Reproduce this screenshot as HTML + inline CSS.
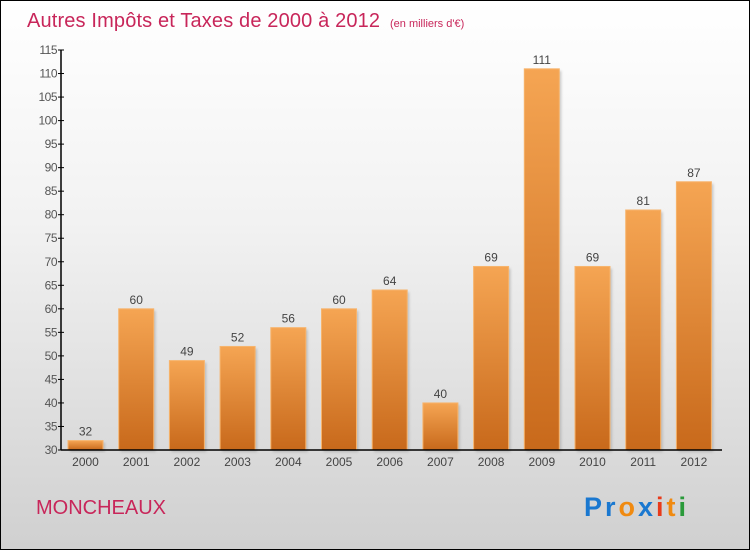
<!DOCTYPE html>
<html><head><meta charset="utf-8"><style>
html,body{margin:0;padding:0}
body{width:750px;height:550px;overflow:hidden;font-family:"Liberation Sans",sans-serif}
#wrap{position:absolute;left:0;top:0;width:748px;height:548px;border:1px solid #000;background:linear-gradient(#ffffff 0%,#f2f2f2 40%,#d0d0d0 100%)}
</style></head><body>
<div id="wrap">
<svg id="chart" width="750" height="550" style="position:absolute;left:-1px;top:-1px">
<defs>
<linearGradient id="bg" x1="0" y1="0" x2="0" y2="1"><stop offset="0" stop-color="#f5a553"/><stop offset="1" stop-color="#c8691b"/></linearGradient>
<filter id="sh"><feGaussianBlur stdDeviation="1.2"/></filter>
</defs>
<text x="27" y="27" font-size="20" fill="#c8265a" textLength="353">Autres Impôts et Taxes de 2000 à 2012</text>
<text x="390" y="27" font-size="11" fill="#c8265a">(en milliers d'€)</text>
<g id="grid"></g><g id="bars"></g><g id="axes"></g>
<text x="36" y="514" font-size="20" fill="#c8265a">MONCHEAUX</text>
<g font-size="27" font-weight="bold" font-family="Liberation Sans,sans-serif">
<text x="584" y="516" textLength="102"><tspan fill="#1a78d0">Pr</tspan><tspan fill="#f08a10">o</tspan><tspan fill="#1a78d0">x</tspan><tspan fill="#e83a1a">i</tspan><tspan fill="#f08a10">t</tspan><tspan fill="#2a9a3a">i</tspan></text>
</g>
</svg>
</div>
<script>
const categories=["2000","2001","2002","2003","2004","2005","2006","2007","2008","2009","2010","2011","2012"];
const values=[32,60,49,52,56,60,64,40,69,111,69,81,87];
const ticks=[30,35,40,45,50,55,60,65,70,75,80,85,90,95,100,105,110,115];
const NS="http://www.w3.org/2000/svg";
const yMin=30,yMax=115,y0=450,y1=50,axisX=61;
function y(v){return y0-(v-yMin)*(y0-y1)/(yMax-yMin);}
function xc(i){return 85.5+i*50.7;}
function mk(t,a,p){const e=document.createElementNS(NS,t);for(const k in a)e.setAttribute(k,a[k]);p.appendChild(e);return e;}
const bars=document.getElementById('bars'),axes=document.getElementById('axes');
values.forEach((v,i)=>{
 const s=mk('rect',{x:xc(i)-17.5+2,y:y(v)+2,width:35,height:y0-y(v),fill:'#999',opacity:0.5,filter:'url(#sh)'},bars);
 
 
 const r=mk('rect',{x:xc(i)-17.5,y:y(v),width:35,height:y0-y(v),fill:'url(#bg)',stroke:'#f7b46c','stroke-width':1},bars);
 
 
 const t=mk('text',{x:xc(i),y:y(v)-5,'text-anchor':'middle','font-size':12,fill:'#444'},bars);
 t.textContent=v;
 
 
 const c=mk('text',{x:xc(i),y:466,'text-anchor':'middle','font-size':12,fill:'#444'},axes);
 c.textContent=categories[i];
 
 
});
const ya=mk('line',{x1:axisX,y1:y1,x2:axisX,y2:y0,stroke:'#000','stroke-width':1.5},axes);


const xa=mk('line',{x1:axisX,y1:y0,x2:722,y2:y0,stroke:'#000','stroke-width':1.5},axes);


ticks.forEach(v=>{
 mk('line',{x1:axisX-3,y1:y(v),x2:axisX+3,y2:y(v),stroke:'#000'},axes);
 const t=mk('text',{x:axisX-4,y:y(v)+4,'text-anchor':'end','font-size':12,fill:'#555','letter-spacing':'-0.5'},axes);
 t.textContent=v;
 
 
});
</script>
</body></html>
